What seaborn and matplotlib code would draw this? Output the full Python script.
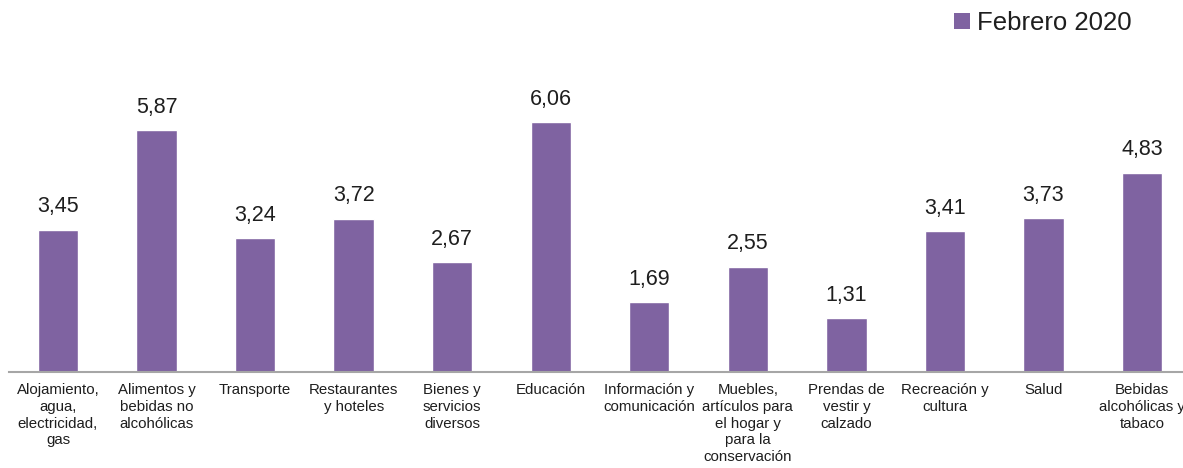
import matplotlib
matplotlib.use("Agg")
import matplotlib.pyplot as plt
import seaborn as sns
import pandas as pd
from matplotlib.patches import Patch

categorias = [
    "Alojamiento,\nagua,\nelectricidad,\ngas",
    "Alimentos y\nbebidas no\nalcohólicas",
    "Transporte",
    "Restaurantes\ny hoteles",
    "Bienes y\nservicios\ndiversos",
    "Educación",
    "Información y\ncomunicación",
    "Muebles,\nartículos para\nel hogar y\npara la\nconservación",
    "Prendas de\nvestir y\ncalzado",
    "Recreación y\ncultura",
    "Salud",
    "Bebidas\nalcohólicas y\ntabaco",
]
valores = [3.45, 5.87, 3.24, 3.72, 2.67, 6.06, 1.69, 2.55, 1.31, 3.41, 3.73, 4.83]
serie = "Febrero 2020"

color_barra = "#7F63A1"
color_texto = "#1E1E1E"

sns.set_theme(style="white")
plt.rcParams["font.family"] = ["Liberation Sans", "DejaVu Sans"]

df = pd.DataFrame({"categoria": categorias, "valor": valores, "serie": serie})

W, H = 1183, 468
fig = plt.figure(figsize=(W / 100, H / 100), dpi=100)
left = 8.7 / W
right = 1191.3 / W
bottom = (H - 372) / H
top_units = 7.0
height = top_units * 41.25 / H
ax = fig.add_axes([left, bottom, right - left, height])

sns.barplot(data=df, x="categoria", y="valor", color=color_barra, width=0.41,
            ax=ax, saturation=1, errorbar=None)

ax.set_ylim(0, top_units)
ax.set_xlim(-0.5, len(categorias) - 0.5)
ax.set_xlabel("")
ax.set_ylabel("")
ax.set_yticks([])
for s in ["top", "right", "left"]:
    ax.spines[s].set_visible(False)
ax.spines["bottom"].set_color("#A6A6A6")
ax.spines["bottom"].set_linewidth(1.5)
ax.tick_params(axis="x", length=0, pad=8, labelsize=10.8, labelcolor=color_texto)
for lbl in ax.get_xticklabels():
    lbl.set_linespacing(1.25)
    lbl.set_va("top")

for i, v in enumerate(valores):
    ax.annotate(f"{v:.2f}".replace(".", ","), xy=(i, v), xytext=(0, 12.5),
                textcoords="offset points", ha="center", va="baseline",
                fontsize=15.5, color=color_texto)

handles = [Patch(facecolor=color_barra, edgecolor="none")]
fig.legend(handles, [serie], loc="upper right", bbox_to_anchor=(1137 / W, 1 - 6 / H),
           frameon=False, fontsize=18.5, handlelength=0.6, handleheight=0.6,
           handletextpad=0.3, labelcolor=color_texto, borderaxespad=0, borderpad=0.2)

fig.savefig("out.png", dpi=100)
